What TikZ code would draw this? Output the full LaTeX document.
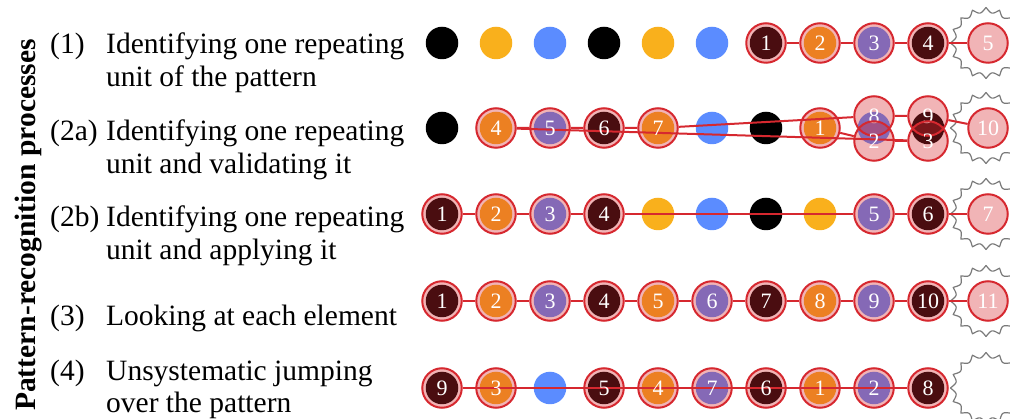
\documentclass[tikz,border=0pt]{standalone}
\usepackage{fontspec}
\setmainfont{Liberation Serif}

\definecolor{seqred}{HTML}{D6282F}
\definecolor{dotorange}{HTML}{F9B01C}
\definecolor{dotblue}{HTML}{5B8CFF}
\definecolor{sungray}{HTML}{7A7A7A}

\pgfdeclarelayer{dots}
\pgfdeclarelayer{links}
\pgfsetlayers{dots,links,main}

% wavy "sun" outline marking the end of a sequence
\newcommand\sunat[2]{%
  \draw[sun] plot[domain=0:360,samples=289,variable=\t]
    ({#1+(35.5-5*abs(sin(8*\t)))*cos(\t)},{#2+(35.5-5*abs(sin(8*\t)))*sin(\t)}) -- cycle;}

\begin{document}
\begin{tikzpicture}[x=1pt,y=-1pt,
  dot/.style={circle,inner sep=0pt,minimum size=32.5pt,draw=none},
  blk/.style={dot,fill=black},
  org/.style={dot,fill=dotorange},
  blu/.style={dot,fill=dotblue},
  visit/.style={circle,inner sep=0pt,minimum size=39.5pt,draw=seqred,line width=2pt,
    fill=seqred,fill opacity=0.35,draw opacity=1,text opacity=1,text=white,
    font=\fontsize{22}{22}\selectfont},
  link/.style={draw=seqred,line width=2pt},
  sun/.style={draw=sungray,line width=1.2pt,line join=round},
  desc/.style={anchor=base west,inner sep=0pt,font=\fontsize{29.5}{33}\selectfont}]
\useasboundingbox (0,0) rectangle (1010,419);

% the repeating pattern: black, orange, blue
\begin{pgfonlayer}{dots}
\foreach \r/\y in {A/43,B/128,C/214,D/301,E/388}{
  \foreach \i/\s in {1/blk,2/org,3/blu,4/blk,5/org,6/blu,7/blk,8/org,9/blu,10/blk}{
    \node[\s] (\r\i) at ({388+54*\i},\y) {};
  }
  \sunat{986}{\y}
}
\end{pgfonlayer}

% (1)
\node[visit] (a1) at (A7) {1};
\node[visit] (a2) at (A8) {2};
\node[visit] (a3) at (A9) {3};
\node[visit] (a4) at (A10) {4};
\node[visit] (a5) at (988,43) {5};

% (2a)
\node[visit] (b4) at (B2) {4};
\node[visit] (b5) at (B3) {5};
\node[visit] (b6) at (B4) {6};
\node[visit] (b7) at (B5) {7};
\node[visit] (b1) at (B8) {1};
\node[visit] (b8) at ([yshift=12pt]B9) {8};
\node[visit] (b2) at ([yshift=-13pt]B9) {2};
\node[visit] (b9) at ([yshift=12pt]B10) {9};
\node[visit] (b3) at ([yshift=-13pt]B10) {3};
\node[visit] (b10) at (988,128) {10};

% (2b)
\node[visit] (c1) at (C1) {1};
\node[visit] (c2) at (C2) {2};
\node[visit] (c3) at (C3) {3};
\node[visit] (c4) at (C4) {4};
\node[visit] (c5) at (C9) {5};
\node[visit] (c6) at (C10) {6};
\node[visit] (c7) at (988,214) {7};

% (3)
\foreach \i in {1,...,10}{\node[visit] (d\i) at (D\i) {\i};}
\node[visit] (d11) at (988,301) {11};

% (4)
\node[visit] (e9) at (E1) {9};
\node[visit] (e3) at (E2) {3};
\node[visit] (e5) at (E4) {5};
\node[visit] (e4) at (E5) {4};
\node[visit] (e7) at (E6) {7};
\node[visit] (e6) at (E7) {6};
\node[visit] (e1) at (E8) {1};
\node[visit] (e2) at (E9) {2};
\node[visit] (e8) at (E10) {8};

% visiting order
\begin{pgfonlayer}{links}
\draw[link] (a1) -- (a2) -- (a3) -- (a4) -- (a5);
\draw[link] (b1) -- (b2) -- (b3) -- (b4) -- (b5) -- (b6) -- (b7) -- (b8) -- (b9) -- (b10);
\draw[link] (c1) -- (c2) -- (c3) -- (c4) -- (c5) -- (c6) -- (c7);
\draw[link] (d1) -- (d2) -- (d3) -- (d4) -- (d5) -- (d6) -- (d7) -- (d8) -- (d9) -- (d10) -- (d11);
\draw[link] (e1) -- (e2) -- (e3) -- (e4) -- (e5) -- (e6) -- (e7) -- (e8) -- (e9);
\end{pgfonlayer}

% descriptions
\node[rotate=90,anchor=base,inner sep=0pt,font=\bfseries\fontsize{29.5}{30}\selectfont]
  (title) at (35,225) {Pattern-recognition processes};

\node[desc] (n1) at (50,54) {(1)};
\node[desc] (t1) at (106,54) {Identifying one repeating};
\node[desc] (u1) at (106,87) {unit of the pattern};

\node[desc] (n2a) at (50,141) {(2a)};
\node[desc] (t2a) at (106,141) {Identifying one repeating};
\node[desc] (u2a) at (106,174) {unit and validating it};

\node[desc] (n2b) at (50,227) {(2b)};
\node[desc] (t2b) at (106,227) {Identifying one repeating};
\node[desc] (u2b) at (106,260) {unit and applying it};

\node[desc] (n3) at (50,326) {(3)};
\node[desc] (t3) at (106,326) {Looking at each element};

\node[desc] (n4) at (50,381) {(4)};
\node[desc] (t4) at (106,381) {Unsystematic jumping};
\node[desc] (u4) at (106,413) {over the pattern};
\end{tikzpicture}
\end{document}
